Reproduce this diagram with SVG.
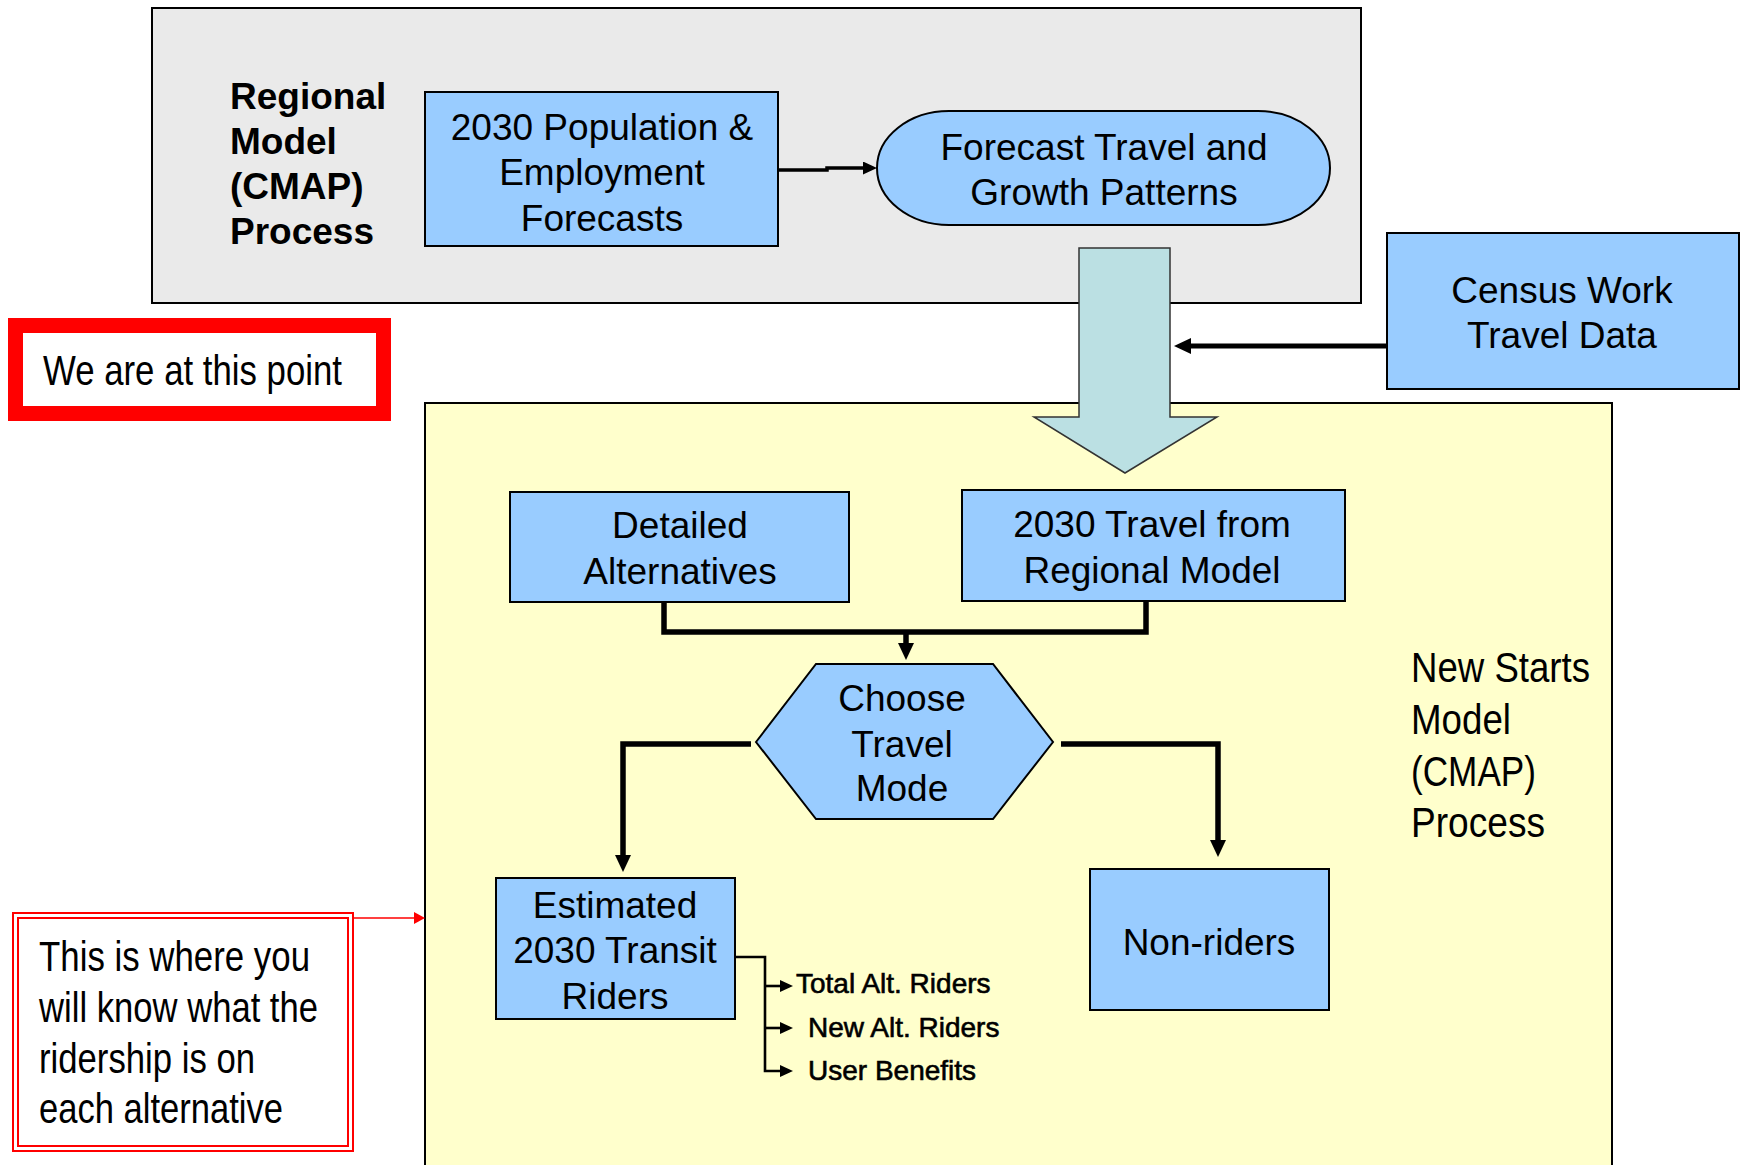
<svg xmlns="http://www.w3.org/2000/svg" width="1741" height="1165" viewBox="0 0 1741 1165">
<defs>
<style>
.box{fill:#99CCFF;stroke:#000;stroke-width:2}
.t{font-family:"Liberation Sans",Arial,sans-serif;font-size:37px;fill:#000;text-anchor:middle}
.tb{font-family:"Liberation Sans",Arial,sans-serif;font-size:37px;font-weight:bold;fill:#000}
.tn{font-family:"Liberation Sans Narrow","Liberation Sans",Arial,sans-serif;font-size:43px;fill:#000}
.ts{font-family:"Liberation Sans",Arial,sans-serif;font-size:28px;fill:#000;stroke:#000;stroke-width:0.6}
.c{fill:none;stroke:#000;stroke-width:5.5}
.cs{fill:none;stroke:#000;stroke-width:2.6}
</style>
<marker id="a1" markerUnits="userSpaceOnUse" markerWidth="14" markerHeight="13" refX="2" refY="6.5" orient="auto"><path d="M0,0 L14,6.5 L0,13 z" fill="#000"/></marker>
<marker id="a3" markerUnits="userSpaceOnUse" markerWidth="17" markerHeight="16" refX="3" refY="8" orient="auto"><path d="M0,0 L17,8 L0,16 z" fill="#000"/></marker>
<marker id="a2" markerUnits="userSpaceOnUse" markerWidth="13" markerHeight="12" refX="1" refY="6" orient="auto"><path d="M0,0 L13,6 L0,12 z" fill="#000"/></marker>
<marker id="ar" markerUnits="userSpaceOnUse" markerWidth="11" markerHeight="12" refX="1" refY="6" orient="auto"><path d="M0,0 L11,6 L0,12 z" fill="#FF0000"/></marker>
</defs>
<rect width="1741" height="1165" fill="#fff"/>

<g id="regional-model">
<rect x="152" y="8" width="1209" height="295" fill="#EAEAEA" stroke="#000" stroke-width="2"/>
<text class="tb" x="230" y="109">Regional</text>
<text class="tb" x="230" y="154">Model</text>
<text class="tb" x="230" y="199">(CMAP)</text>
<text class="tb" x="230" y="244">Process</text>
</g>

<g id="new-starts-model">
<rect x="425" y="403" width="1187" height="780" fill="#FFFFCC" stroke="#000" stroke-width="2"/>
<text class="tn" x="1411" y="682" textLength="179" lengthAdjust="spacingAndGlyphs">New Starts</text>
<text class="tn" x="1411" y="734" textLength="100" lengthAdjust="spacingAndGlyphs">Model</text>
<text class="tn" x="1411" y="786" textLength="125" lengthAdjust="spacingAndGlyphs">(CMAP)</text>
<text class="tn" x="1411" y="837" textLength="134" lengthAdjust="spacingAndGlyphs">Process</text>
</g>

<g id="population">
<rect class="box" x="425" y="92" width="353" height="154"/>
<text class="t" x="602" y="140">2030 Population &amp;</text>
<text class="t" x="602" y="185">Employment</text>
<text class="t" x="602" y="231">Forecasts</text>
</g>

<g id="forecast">
<rect class="box" x="877" y="111" width="453" height="114" rx="72" ry="57"/>
<text class="t" x="1104" y="160">Forecast Travel and</text>
<text class="t" x="1104" y="205">Growth Patterns</text>
</g>

<g id="big-arrow">
<path d="M1079,248 H1170 V417 H1217 L1125,473 L1034,417 H1079 Z" fill="#BBE0E3" stroke="#333" stroke-width="1.5"/>
</g>

<g id="census">
<rect class="box" x="1387" y="233" width="352" height="156"/>
<text class="t" x="1562" y="303">Census Work</text>
<text class="t" x="1562" y="348">Travel Data</text>
</g>

<g id="we-are-here">
<rect x="15.5" y="325.5" width="368" height="88" fill="#fff" stroke="#FF0000" stroke-width="15"/>
<text class="tn" x="43" y="385" textLength="299" lengthAdjust="spacingAndGlyphs">We are at this point</text>
</g>

<g id="detailed-alternatives">
<rect class="box" x="510" y="492" width="339" height="110"/>
<text class="t" x="680" y="538">Detailed</text>
<text class="t" x="680" y="584">Alternatives</text>
</g>

<g id="travel-regional">
<rect class="box" x="962" y="490" width="383" height="111"/>
<text class="t" x="1152" y="537">2030 Travel from</text>
<text class="t" x="1152" y="583">Regional Model</text>
</g>

<g id="choose-mode">
<polygon class="box" points="756,742 816,664 993,664 1053,742 993,819 816,819"/>
<text class="t" x="902" y="711">Choose</text>
<text class="t" x="902" y="757">Travel</text>
<text class="t" x="902" y="801">Mode</text>
</g>

<g id="transit-riders">
<rect class="box" x="496" y="878" width="239" height="141"/>
<text class="t" x="615" y="918">Estimated</text>
<text class="t" x="615" y="963">2030 Transit</text>
<text class="t" x="615" y="1009">Riders</text>
</g>

<g id="non-riders">
<rect class="box" x="1090" y="869" width="239" height="141"/>
<text class="t" x="1209" y="955">Non-riders</text>
</g>

<g id="outputs">
<text class="ts" x="796" y="993">Total Alt. Riders</text>
<text class="ts" x="808" y="1037">New Alt. Riders</text>
<text class="ts" x="808" y="1080">User Benefits</text>
</g>

<g id="ridership-note">
<rect x="13" y="913" width="340" height="238" fill="#fff" stroke="#FF0000" stroke-width="2"/>
<rect x="18" y="918" width="330" height="228" fill="none" stroke="#FF0000" stroke-width="2"/>
<text class="tn" x="39" y="971" textLength="271" lengthAdjust="spacingAndGlyphs">This is where you</text>
<text class="tn" x="39" y="1022" textLength="279" lengthAdjust="spacingAndGlyphs">will know what the</text>
<text class="tn" x="39" y="1073" textLength="216" lengthAdjust="spacingAndGlyphs">ridership is on</text>
<text class="tn" x="39" y="1123" textLength="244" lengthAdjust="spacingAndGlyphs">each alternative</text>
</g>

<g id="connectors">
<path class="c" style="stroke-width:3.5" d="M778,170 H827 V168 H865" marker-end="url(#a1)"/>
<path class="c" style="stroke-width:5" d="M1387,346 H1188" marker-end="url(#a3)"/>
<path class="c" d="M664,602 V632 H1146 V601"/>
<path class="c" d="M906,632 V646" marker-end="url(#a3)"/>
<path class="c" d="M751,744 H623 V858" marker-end="url(#a3)"/>
<path class="c" d="M1061,744 H1218 V843" marker-end="url(#a3)"/>
<path class="cs" d="M735,957 H765 V1071 H781" marker-end="url(#a2)"/>
<path class="cs" d="M765,986 H781" marker-end="url(#a2)"/>
<path class="cs" d="M765,1028 H781" marker-end="url(#a2)"/>
<path fill="none" stroke="#FF0000" stroke-width="1.5" d="M354,918 H415" marker-end="url(#ar)"/>
</g>
</svg>
